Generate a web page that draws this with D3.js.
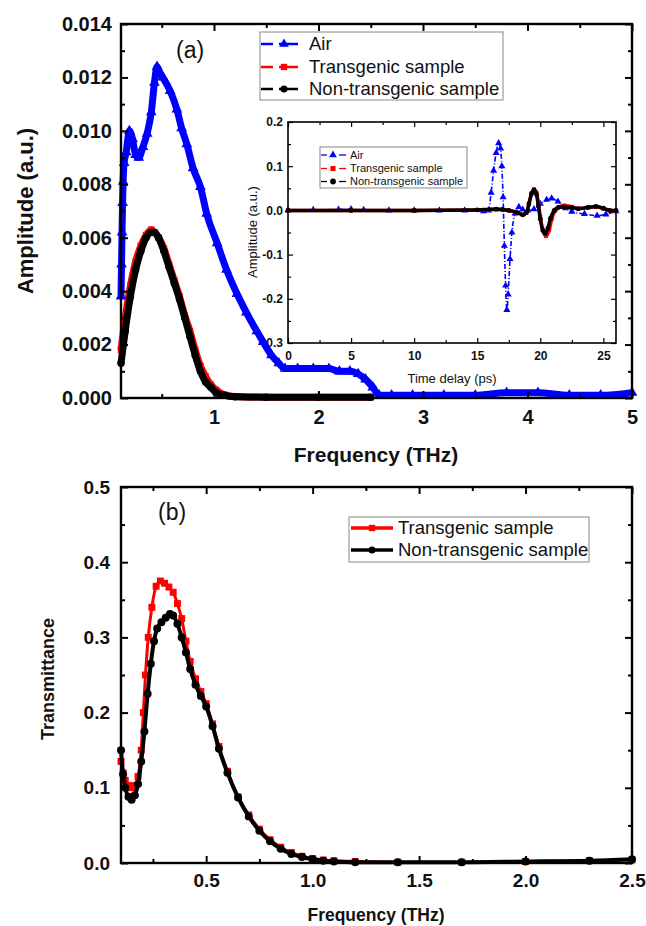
<!DOCTYPE html>
<html>
<head>
<meta charset="utf-8">
<script src="https://cdn.jsdelivr.net/npm/d3@7"></script>
<style>
  body { margin: 0; background: #fff; }
  svg { display: block; }
</style>
</head>
<body>
<div id="chart"></div>
<script>
'use strict';

// ---- data ----
// panel (a): spectrum amplitude vs frequency (THz)
const airA = [[0.11,0.0038],[0.115,0.0050],[0.12,0.0062],[0.125,0.0073],[0.13,0.0081],[0.14,0.0088],
  [0.16,0.0092],[0.19,0.0100],[0.22,0.0097],[0.25,0.0091],[0.28,0.0090],[0.32,0.0094],[0.36,0.0099],
  [0.40,0.0107],[0.43,0.0118],[0.455,0.0124],[0.48,0.0122],[0.51,0.0120],[0.58,0.0115],[0.645,0.0108],
  [0.69,0.0101],[0.74,0.0095],[0.80,0.0086],[0.87,0.0079],[0.93,0.0069],[1.03,0.0058],[1.12,0.0048],
  [1.22,0.0039],[1.31,0.0032],[1.41,0.0025],[1.47,0.0021],[1.55,0.0016],[1.62,0.0013],[1.68,0.0011],
  [1.80,0.0011],[1.95,0.0011],[2.10,0.0011],[2.20,0.0010],[2.30,0.0010],[2.38,0.0009],[2.45,0.0007],
  [2.52,0.0004],[2.58,0.0001],[2.70,0.0001],[2.90,0.0001],[3.20,0.0001],[3.50,0.0001],[3.80,0.0002],
  [4.10,0.0002],[4.40,0.0001],[4.70,0.0001],[5.00,0.0002]];
const transA = [[0.11,0.0018],[0.15,0.0030],[0.20,0.0042],[0.25,0.0051],[0.30,0.0057],[0.35,0.0061],
  [0.40,0.0063],[0.43,0.0062],[0.47,0.0060],[0.52,0.0056],[0.57,0.0050],[0.62,0.0044],[0.67,0.0038],
  [0.72,0.0031],[0.77,0.0025],[0.82,0.0018],[0.87,0.0012],[0.92,0.0008],[0.97,0.0005],[1.02,0.0003],
  [1.10,0.00012],[1.20,0.00006],[1.50,0.00003],[2.00,0.00003],[2.50,0.00003]];
const nonTransA = [[0.11,0.0013],[0.15,0.0025],[0.20,0.0038],[0.25,0.0048],[0.30,0.0055],[0.35,0.0060],
  [0.40,0.0062],[0.43,0.0062],[0.47,0.0060],[0.52,0.0055],[0.57,0.0049],[0.62,0.0043],[0.67,0.0037],
  [0.72,0.0030],[0.77,0.0023],[0.82,0.0016],[0.87,0.0010],[0.92,0.0006],[0.97,0.0004],[1.02,0.0002],
  [1.10,0.0001],[1.20,0.00005],[1.50,0.00003],[2.00,0.00003],[2.50,0.00003]];

// inset: time-domain pulses, time delay (ps)
const airT = [[0,0],[2,0.001],[4,0.002],[5,0.003],[6,0.001],[8,0],[10,0],[12,0],[14,0],[15.5,-0.002],
  [15.9,0],[16.1,0.04],[16.3,0.09],[16.5,0.13],[16.7,0.152],[16.85,0.14],[16.95,0.10],[17.05,0.03],
  [17.15,-0.08],[17.25,-0.17],[17.35,-0.225],[17.45,-0.19],[17.6,-0.11],[17.75,-0.05],[18.0,-0.007],
  [18.3,0.008],[18.6,0.002],[19.0,0],[19.5,0.003],[20.0,0.015],[20.5,0.024],[20.9,0.027],[21.4,0.02],
  [22.0,0.005],[22.5,-0.003],[23.5,-0.008],[24.5,-0.012],[25.2,-0.009],[26,-0.002]];
const transT = [[0,0],[5,0],[10,0],[15,0.001],[16.5,0.002],[17.5,0],[18.2,-0.005],[18.6,-0.010],
  [18.9,-0.005],[19.1,0.015],[19.3,0.038],[19.5,0.048],[19.7,0.040],[19.85,0.015],[20.0,-0.015],
  [20.2,-0.045],[20.45,-0.058],[20.7,-0.045],[20.9,-0.02],[21.2,0],[21.5,0.008],[21.9,0.011],
  [22.5,0.008],[23.0,0.004],[23.8,0.006],[24.4,0.008],[25.0,0.004],[25.5,0],[26,-0.001]];
const nonTransT = [[0,0],[5,0],[10,0],[15,0.001],[16.5,0.003],[17.0,0.002],[17.5,0],[18.2,-0.005],
  [18.6,-0.010],[18.9,-0.005],[19.1,0.015],[19.3,0.038],[19.5,0.046],[19.7,0.036],[19.85,0.010],
  [20.0,-0.02],[20.2,-0.045],[20.4,-0.052],[20.6,-0.040],[20.8,-0.018],[21.1,0],[21.4,0.006],
  [21.8,0.008],[22.5,0.006],[23.0,0.004],[23.8,0.007],[24.4,0.009],[25.0,0.005],[25.5,0],[26,0]];

// panel (b): transmittance vs frequency (THz)
const transB = [[0.100,0.135],[0.110,0.120],[0.120,0.110],[0.135,0.103],[0.150,0.100],[0.165,0.103],
  [0.180,0.115],[0.195,0.150],[0.205,0.200],[0.215,0.250],[0.228,0.300],[0.245,0.340],[0.265,0.368],
  [0.285,0.375],[0.305,0.372],[0.325,0.367],[0.345,0.360],[0.365,0.345],[0.385,0.325],[0.405,0.295],
  [0.425,0.268],[0.450,0.245],[0.475,0.228],[0.500,0.212],[0.530,0.185],[0.560,0.155],[0.600,0.122],
  [0.650,0.088],[0.700,0.064],[0.750,0.045],[0.800,0.031],[0.850,0.021],[0.900,0.014],[0.950,0.009],
  [1.000,0.006],[1.050,0.004],[1.100,0.003],[1.200,0.002],[1.400,0.001],[1.700,0.001],[2.000,0.002],
  [2.300,0.003],[2.500,0.004]];
const nonTransB = [[0.100,0.150],[0.110,0.118],[0.120,0.100],[0.135,0.088],[0.150,0.084],[0.165,0.090],
  [0.180,0.105],[0.195,0.135],[0.210,0.175],[0.225,0.225],[0.240,0.265],[0.255,0.295],[0.270,0.312],
  [0.290,0.320],[0.310,0.326],[0.330,0.331],[0.345,0.329],[0.365,0.318],[0.385,0.300],[0.405,0.280],
  [0.425,0.258],[0.450,0.237],[0.475,0.222],[0.500,0.208],[0.530,0.182],[0.560,0.152],[0.600,0.120],
  [0.650,0.087],[0.700,0.062],[0.750,0.043],[0.800,0.029],[0.850,0.019],[0.900,0.012],[0.950,0.008],
  [1.000,0.005],[1.050,0.003],[1.100,0.002],[1.200,0.001],[1.400,0.001],[1.700,0.001],[2.000,0.002],
  [2.300,0.003],[2.500,0.005]];

// tick values
const aTicksX = [1, 2, 3, 4, 5];
const aMinorX = [0.5, 1.5, 2.5, 3.5, 4.5];
const aTicksY = [0, 0.002, 0.004, 0.006, 0.008, 0.010, 0.012, 0.014];
const aMinorY = [0.001, 0.003, 0.005, 0.007, 0.009, 0.011, 0.013];
const iTicksX = [0, 5, 10, 15, 20, 25];
const iMinorX = [2.5, 7.5, 12.5, 17.5, 22.5];
const iTicksY = [-0.3, -0.2, -0.1, 0, 0.1, 0.2];
const iMinorY = [-0.25, -0.15, -0.05, 0.05, 0.15];
const bTicksX = [0.5, 1.0, 1.5, 2.0, 2.5];
const bMinorX = [0.25, 0.75, 1.25, 1.75, 2.25];
const bTicksY = [0, 0.1, 0.2, 0.3, 0.4, 0.5];
const bMinorY = [0.05, 0.15, 0.25, 0.35, 0.45];

const labelsA = ['Air', 'Transgenic sample', 'Non-transgenic sample'];
const labelsB = ['Transgenic sample', 'Non-transgenic sample'];

const BLUE = '#0000ff', RED = '#ff0000', BLACK = '#000000';
const FONT = '"Liberation Sans", Arial, Helvetica, sans-serif';

const svg = d3.select('#chart').append('svg')
    .attr('width', 646).attr('height', 926)
    .attr('font-family', FONT);
svg.append('rect').attr('width', 646).attr('height', 926).attr('fill', '#fff');

// ---- scales ----
const xA = d3.scaleLinear().domain([0.11, 5]).range([121, 632]);
const yA = d3.scaleLinear().domain([0, 0.014]).range([398, 24]);
const xI = d3.scaleLinear().domain([0, 26]).range([288, 616]);
const yI = d3.scaleLinear().domain([-0.3, 0.2]).range([343, 122]);
const xB = d3.scaleLinear().domain([0.1, 2.5]).range([121, 632]);
const yB = d3.scaleLinear().domain([0, 0.5]).range([863, 487]);

function drawAxes(g, x, y, o) {
    const [x0, x1] = x.range();
    const [y0, y1] = y.range();
    function style(sel, sw) {
        sel.select('.domain').remove();
        sel.selectAll('line').attr('stroke-width', sw);
        sel.attr('font-family', FONT).attr('font-size', o.fs).attr('font-weight', 'bold');
        sel.selectAll('text').attr('fill', '#111');
    }
    const fx = o.xFmt, fy = o.yFmt;
    g.append('g').attr('transform', `translate(0,${y0})`)
        .call(d3.axisBottom(x).tickValues(o.xMajor).tickSize(-o.major).tickSizeOuter(0).tickPadding(o.padX).tickFormat(fx))
        .call(s => style(s, o.tw));
    g.append('g').attr('transform', `translate(0,${y0})`)
        .call(d3.axisBottom(x).tickValues(o.xMinor).tickSize(-o.minor).tickSizeOuter(0).tickFormat(''))
        .call(s => style(s, o.tw));
    g.append('g').attr('transform', `translate(0,${y1})`)
        .call(d3.axisTop(x).tickValues(o.xMajor).tickSize(-o.major).tickSizeOuter(0).tickFormat(''))
        .call(s => style(s, o.tw));
    g.append('g').attr('transform', `translate(0,${y1})`)
        .call(d3.axisTop(x).tickValues(o.xMinor).tickSize(-o.minor).tickSizeOuter(0).tickFormat(''))
        .call(s => style(s, o.tw));
    g.append('g').attr('transform', `translate(${x0},0)`)
        .call(d3.axisLeft(y).tickValues(o.yMajor).tickSize(-o.major).tickSizeOuter(0).tickPadding(o.padY).tickFormat(fy))
        .call(s => style(s, o.tw));
    g.append('g').attr('transform', `translate(${x0},0)`)
        .call(d3.axisLeft(y).tickValues(o.yMinor).tickSize(-o.minor).tickSizeOuter(0).tickFormat(''))
        .call(s => style(s, o.tw));
    g.append('g').attr('transform', `translate(${x1},0)`)
        .call(d3.axisRight(y).tickValues(o.yMajor).tickSize(-o.major).tickSizeOuter(0).tickFormat(''))
        .call(s => style(s, o.tw));
    g.append('g').attr('transform', `translate(${x1},0)`)
        .call(d3.axisRight(y).tickValues(o.yMinor).tickSize(-o.minor).tickSizeOuter(0).tickFormat(''))
        .call(s => style(s, o.tw));
    g.append('rect')
        .attr('x', x0).attr('y', y1).attr('width', x1 - x0).attr('height', y0 - y1)
        .attr('fill', 'none').attr('stroke', '#000').attr('stroke-width', o.sw);
}

function drawSeries(g, x, y, data, s) {
    const line = d3.line()
        .x(d => x(d[0])).y(d => y(d[1]))
        .curve(d3.curveMonotoneX);
    g.append('path').datum(data)
        .attr('d', line)
        .attr('fill', 'none')
        .attr('stroke', s.color)
        .attr('stroke-width', s.lw)
        .attr('stroke-dasharray', s.dash || null)
        .attr('stroke-linejoin', 'round');
    g.selectAll(null).data(data).enter().append('path')
        .attr('transform', d => `translate(${x(d[0])},${y(d[1])})`)
        .attr('d', d3.symbol().type(s.symbol).size(s.size))
        .attr('fill', s.color);
}

function drawLegend(g, items, o) {
    g.append('rect')
        .attr('x', o.x).attr('y', o.y).attr('width', o.w).attr('height', o.h)
        .attr('fill', '#fff').attr('stroke', '#888').attr('stroke-width', 1);
    items.forEach((it, i) => {
        const cy = o.rows[i];
        o.segs.forEach(sg => {
            g.append('line')
                .attr('x1', sg[0]).attr('x2', sg[1]).attr('y1', cy).attr('y2', cy)
                .attr('stroke', it.color).attr('stroke-width', o.lw)
                .attr('stroke-dasharray', o.dash || null);
        });
        g.append('path')
            .attr('transform', `translate(${o.mx},${cy})`)
            .attr('d', d3.symbol().type(it.symbol).size(o.msize))
            .attr('fill', it.color);
        g.append('text')
            .attr('x', o.tx).attr('y', cy).attr('dy', '0.35em')
            .attr('font-size', o.fs).attr('fill', '#111')
            .text(it.label);
    });
}

const fmt3 = d => d.toFixed(3);
const fmtInt = d => String(d);

// ---------------- panel (a) ----------------
const gA = svg.append('g');

// inset first, so the main curves sit on top of its labels
const gI = gA.append('g');
gI.append('rect')
    .attr('x', 288).attr('y', 122).attr('width', 328).attr('height', 221)
    .attr('fill', '#fff');
drawSeries(gI, xI, yI, airT, { color: BLUE, lw: 1.6, dash: '5,2,1,2', symbol: d3.symbolTriangle, size: 22 });
drawSeries(gI, xI, yI, transT, { color: RED, lw: 3.5, symbol: d3.symbolSquare, size: 16 });
drawSeries(gI, xI, yI, nonTransT, { color: BLACK, lw: 3.5, symbol: d3.symbolCircle, size: 18 });
drawAxes(gI, xI, yI, {
    xMajor: iTicksX, xMinor: iMinorX, yMajor: iTicksY, yMinor: iMinorY,
    xFmt: fmtInt, yFmt: d => d.toFixed(1),
    major: 5, minor: 3, tw: 1.2, sw: 1.6, fs: 12, padX: 8, padY: 5
});
gI.append('text')
    .attr('transform', 'translate(252,232) rotate(-90)')
    .attr('text-anchor', 'middle').attr('dy', '0.35em')
    .attr('font-size', 13).attr('fill', '#111')
    .text('Amplitude (a.u.)');
gI.append('text')
    .attr('x', 452).attr('y', 383)
    .attr('text-anchor', 'middle')
    .attr('font-size', 13).attr('fill', '#111')
    .text('Time delay (ps)');
drawLegend(gI, [
    { label: labelsA[0], color: BLUE, symbol: d3.symbolTriangle },
    { label: labelsA[1], color: RED, symbol: d3.symbolSquare },
    { label: labelsA[2], color: BLACK, symbol: d3.symbolCircle }
], {
    x: 320, y: 147, w: 147, h: 41, rows: [155, 168.5, 181.5],
    segs: [[321, 327], [339, 346]], lw: 1.3, mx: 333, msize: 26,
    tx: 350, fs: 11
});

drawSeries(gA, xA, yA, transA, { color: RED, lw: 7, symbol: d3.symbolSquare, size: 42 });
drawSeries(gA, xA, yA, nonTransA, { color: BLACK, lw: 7, symbol: d3.symbolCircle, size: 44 });
drawSeries(gA, xA, yA, airA, { color: BLUE, lw: 7, symbol: d3.symbolTriangle, size: 50 });

drawAxes(gA, xA, yA, {
    xMajor: aTicksX, xMinor: aMinorX, yMajor: aTicksY, yMinor: aMinorY,
    xFmt: fmtInt, yFmt: fmt3,
    major: 7, minor: 4, tw: 2, sw: 2.4, fs: 20, padX: 12, padY: 9
});

gA.append('text')
    .attr('transform', 'translate(25,211) rotate(-90)')
    .attr('text-anchor', 'middle').attr('dy', '0.35em')
    .attr('font-size', 22).attr('font-weight', 'bold').attr('fill', '#111')
    .text('Amplitude (a.u.)');
gA.append('text')
    .attr('x', 376).attr('y', 462)
    .attr('text-anchor', 'middle')
    .attr('font-size', 21).attr('font-weight', 'bold').attr('fill', '#111')
    .text('Frequency (THz)');
gA.append('text')
    .attr('x', 176).attr('y', 50).attr('dy', '0.35em')
    .attr('font-size', 23).attr('fill', '#111')
    .text('(a)');

drawLegend(gA, [
    { label: labelsA[0], color: BLUE, symbol: d3.symbolTriangle },
    { label: labelsA[1], color: RED, symbol: d3.symbolSquare },
    { label: labelsA[2], color: BLACK, symbol: d3.symbolCircle }
], {
    x: 260, y: 32, w: 243, h: 68, rows: [44, 67, 89],
    segs: [[261, 273], [279, 298]], lw: 2.5, mx: 284, msize: 40,
    tx: 309, fs: 18.5
});

// ---------------- panel (b) ----------------
const gB = svg.append('g');
drawSeries(gB, xB, yB, transB, { color: RED, lw: 3, symbol: d3.symbolSquare, size: 48 });
drawSeries(gB, xB, yB, nonTransB, { color: BLACK, lw: 4, symbol: d3.symbolCircle, size: 50 });

drawAxes(gB, xB, yB, {
    xMajor: bTicksX, xMinor: bMinorX, yMajor: bTicksY, yMinor: bMinorY,
    xFmt: d => d.toFixed(1), yFmt: d => d.toFixed(1),
    major: 7, minor: 4, tw: 2, sw: 2.4, fs: 19, padX: 11, padY: 11
});

gB.append('text')
    .attr('transform', 'translate(48,679) rotate(-90)')
    .attr('text-anchor', 'middle').attr('dy', '0.35em')
    .attr('font-size', 18).attr('font-weight', 'bold').attr('fill', '#111')
    .text('Transmittance');
gB.append('text')
    .attr('x', 376).attr('y', 921)
    .attr('text-anchor', 'middle')
    .attr('font-size', 17.5).attr('font-weight', 'bold').attr('fill', '#111')
    .text('Frequency (THz)');
gB.append('text')
    .attr('x', 158).attr('y', 512).attr('dy', '0.35em')
    .attr('font-size', 23).attr('fill', '#111')
    .text('(b)');

drawLegend(gB, [
    { label: labelsB[0], color: RED, symbol: d3.symbolSquare },
    { label: labelsB[1], color: BLACK, symbol: d3.symbolCircle }
], {
    x: 349, y: 517, w: 240, h: 45, rows: [528, 550],
    segs: [[351, 393]], lw: 3.5, mx: 372, msize: 40,
    tx: 398, fs: 18.5
});
</script>
</body>
</html>
